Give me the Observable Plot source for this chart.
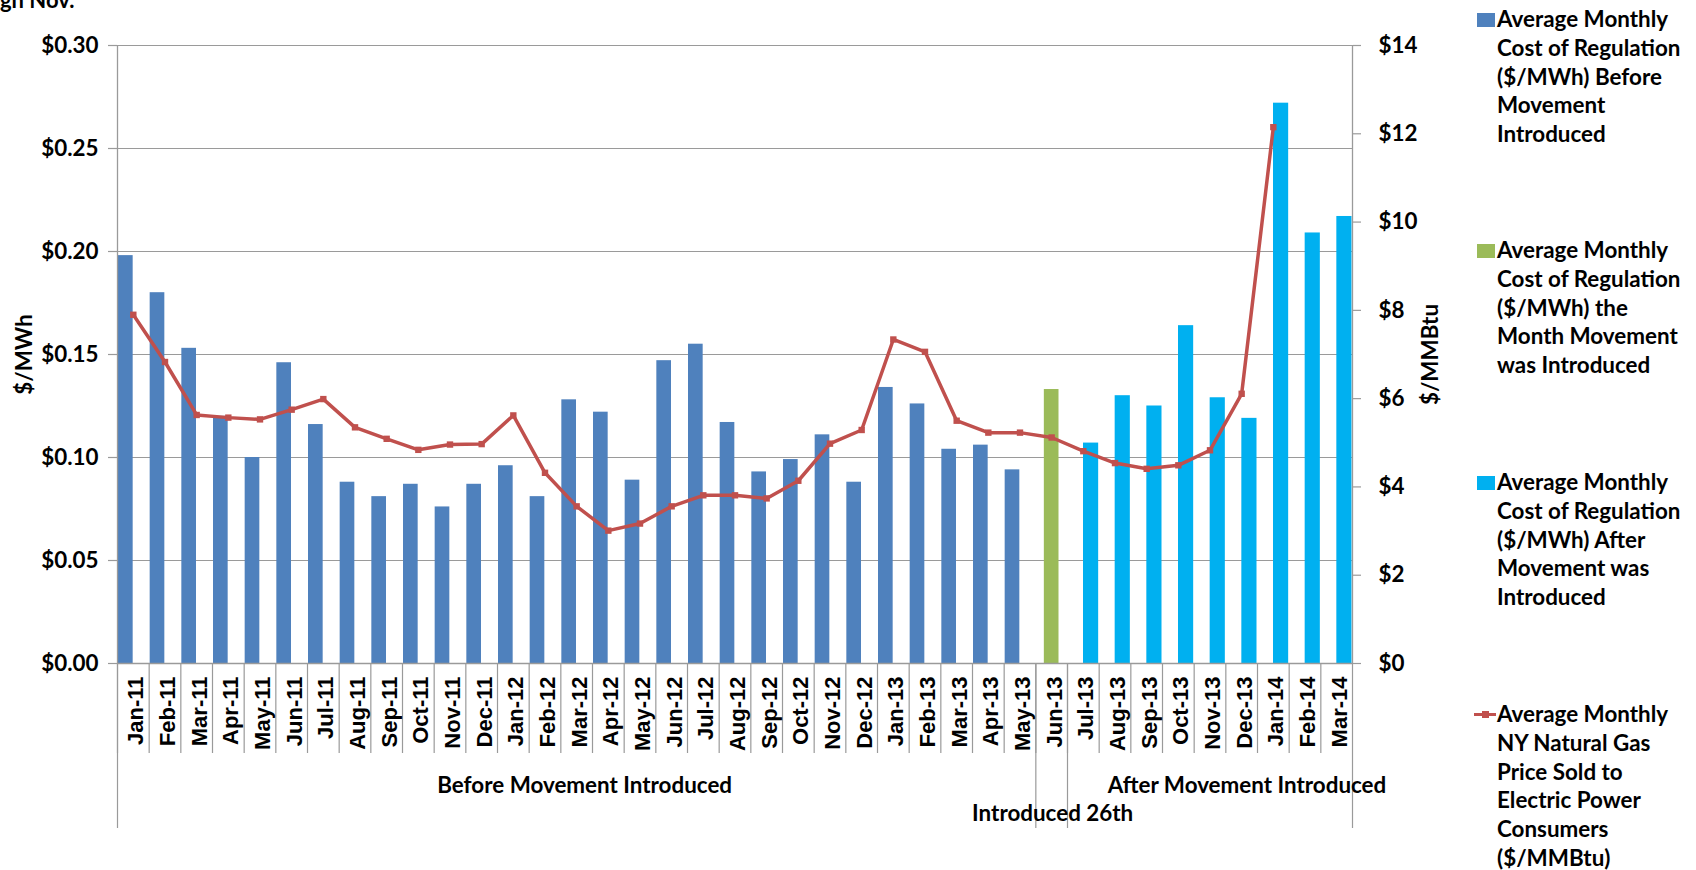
<!DOCTYPE html>
<html><head><meta charset="utf-8">
<script src="https://cdn.jsdelivr.net/npm/d3@7"></script>
<script src="https://cdn.jsdelivr.net/npm/@observablehq/plot@0.6"></script>
<style>
body{margin:0;background:#fff;overflow:hidden;}
#wrap{position:relative;width:1696px;height:870px;font-family:Lato,sans-serif;font-weight:700;color:#000;overflow:hidden;}
#wrap svg{position:absolute;left:0;top:0;}
.note{position:absolute;left:0;top:-11px;font-size:22px;line-height:22px;}
.legend{position:absolute;left:1474px;top:0;font-size:22.4px;line-height:28.8px;}
.legend .item{position:absolute;left:0;white-space:nowrap;}
.sw{position:absolute;left:3px;top:8px;width:18px;height:14px;}
.ln{position:absolute;left:0;top:13px;width:22px;height:3px;}
.mk{position:absolute;left:8px;top:11px;width:7px;height:7px;}
.txt{position:absolute;left:23px;top:0;}
</style></head><body><div id="wrap"><div class="note">gh Nov.</div></div>
<script>
const months = ["Jan-11","Feb-11","Mar-11","Apr-11","May-11","Jun-11","Jul-11","Aug-11","Sep-11","Oct-11","Nov-11","Dec-11",
"Jan-12","Feb-12","Mar-12","Apr-12","May-12","Jun-12","Jul-12","Aug-12","Sep-12","Oct-12","Nov-12","Dec-12",
"Jan-13","Feb-13","Mar-13","Apr-13","May-13","Jun-13","Jul-13","Aug-13","Sep-13","Oct-13","Nov-13","Dec-13",
"Jan-14","Feb-14","Mar-14"];
// Average monthly cost of regulation ($/MWh) before movement introduced: Jan-11 .. May-13
const costBefore = [0.198,0.180,0.153,0.120,0.100,0.146,0.116,0.088,0.081,0.087,0.076,0.087,
0.096,0.081,0.128,0.122,0.089,0.147,0.155,0.117,0.093,0.099,0.111,0.088,
0.134,0.126,0.104,0.106,0.094];
// the month movement was introduced: Jun-13
const costIntro = [0.133];
// after movement was introduced: Jul-13 .. Mar-14
const costAfter = [0.107,0.130,0.125,0.164,0.129,0.119,0.272,0.209,0.217];
// NY natural gas price sold to electric power consumers ($/MMBtu): Jan-11 .. Jan-14
const gasPrice = [7.90,6.83,5.63,5.57,5.53,5.75,5.99,5.35,5.09,4.84,4.96,4.97,
5.62,4.32,3.56,3.01,3.17,3.56,3.81,3.81,3.74,4.14,4.98,5.29,
7.34,7.06,5.50,5.23,5.23,5.12,4.81,4.54,4.41,4.49,4.83,6.11,
12.15];
const leftTicks = [0,0.05,0.10,0.15,0.20,0.25,0.30];
const rightTicks = [0,2,4,6,8,10,12,14];
const groupLabels = ["Before Movement Introduced","Introduced 26th","After Movement Introduced"];
const groupAt = ["Mar-12","Jun-13","Nov-13"];
const seriesNames = [
 ["Average Monthly","Cost of Regulation","($/MWh) Before","Movement","Introduced"],
 ["Average Monthly","Cost of Regulation","($/MWh) the","Month Movement","was Introduced"],
 ["Average Monthly","Cost of Regulation","($/MWh) After","Movement was","Introduced"],
 ["Average Monthly","NY Natural Gas","Price Sold to","Electric Power","Consumers","($/MMBtu)"]
];
const seriesColors = ["#4F81BD","#9BBB59","#00B0F0","#C0504D"];

const Y_MAX = 0.30, G_MAX = 14;
const toY = g => g * Y_MAX / G_MAX;
const nBefore = costBefore.length;
const beforeRows = costBefore.map((v,i)=>({month: months[i], value: v}));
const introRows = costIntro.map((v,i)=>({month: months[nBefore+i], value: v}));
const afterRows = costAfter.map((v,i)=>({month: months[nBefore+costIntro.length+i], value: v}));
const gasRows = gasPrice.map((v,i)=>({month: months[i], gas: v}));

const W = 1696, H = 870, mL = 117, mR = 344, mT = 45, mB = 207;
const bw = (W - mL - mR) / months.length;
const gray = "#9a9a9a";
const tf = {fontFamily: "Lato", fontWeight: 700, fontSize: 22.4};

const chart = Plot.plot({
  width: W, height: H,
  marginLeft: mL, marginRight: mR, marginTop: mT, marginBottom: mB,
  style: {fontFamily: "Lato", fontWeight: 700, fontSize: "22px", color: "#000", background: "transparent", overflow: "visible"},
  x: {type: "band", domain: months, padding: 0, round: false},
  y: {domain: [0, Y_MAX]},
  marks: [
    Plot.gridY(leftTicks.slice(1), {stroke: gray, strokeOpacity: 1, strokeWidth: 1.2}),
    Plot.barY(beforeRows, {x: "month", y: "value", fill: seriesColors[0], insetLeft: 1, insetRight: 16}),
    Plot.barY(introRows, {x: "month", y: "value", fill: seriesColors[1], insetLeft: 8.5, insetRight: 8.5}),
    Plot.barY(afterRows, {x: "month", y: "value", fill: seriesColors[2], insetLeft: 16, insetRight: 0.5}),
    Plot.ruleY([0], {stroke: gray, strokeWidth: 1.3}),
    Plot.ruleX([months[0]], {dx: -bw/2, stroke: gray, strokeWidth: 1.3}),
    Plot.ruleX([months[months.length-1]], {dx: bw/2, stroke: gray, strokeWidth: 1.3}),
    Plot.axisX({ticks: months, tickSize: 90, dx: -bw/2, tickFormat: () => "", stroke: gray, strokeWidth: 1.2}),
    Plot.axisX({ticks: [months[0], months[nBefore], months[nBefore+1]], tickSize: 165, dx: -bw/2, tickFormat: () => "", stroke: gray, strokeWidth: 1.2}),
    Plot.axisX({ticks: [months[months.length-1]], tickSize: 165, dx: bw/2, tickFormat: () => "", stroke: gray, strokeWidth: 1.2}),
    Plot.axisX({tickSize: 0, tickRotate: -90, tickPadding: 13, dx: 3, fontFamily: "Liberation Sans", fontWeight: 700, fontSize: 22, fill: "#000"}),
    Plot.axisY({ticks: leftTicks, tickFormat: d => "$" + d.toFixed(2), tickSize: 9, tickPadding: 10, label: null, stroke: gray, strokeWidth: 1.2, fill: "#000", ...tf}),
    Plot.axisY({anchor: "right", ticks: rightTicks.map(toY), tickFormat: d => "$" + Math.round(d / toY(1)), tickSize: 8, tickPadding: 18, label: null, stroke: gray, strokeWidth: 1.2, fill: "#000", ...tf}),
    Plot.line(gasRows, {x: "month", y: d => toY(d.gas), stroke: seriesColors[3], strokeWidth: 3.5}),
    Plot.dot(gasRows, {x: "month", y: d => toY(d.gas), symbol: "square", r: 3.6, fill: seriesColors[3]}),
    Plot.text(["$/MWh"], {frameAnchor: "left", textAnchor: "middle", dx: -93, rotate: -90, fill: "#000", ...tf}),
    Plot.text(["$/MMBtu"], {frameAnchor: "right", textAnchor: "middle", dx: 78, rotate: -90, fill: "#000", ...tf}),
    Plot.text([{label: groupLabels[0], at: groupAt[0]}], {x: "at", text: "label", frameAnchor: "bottom", dy: 129, dx: 8, fill: "#000", ...tf}),
    Plot.text([{label: groupLabels[1], at: groupAt[1]}], {x: "at", text: "label", frameAnchor: "bottom", dy: 157, dx: 1, fill: "#000", ...tf}),
    Plot.text([{label: groupLabels[2], at: groupAt[2]}], {x: "at", text: "label", frameAnchor: "bottom", dy: 129, dx: 37, fill: "#000", ...tf})
  ]
});
const wrap = document.getElementById("wrap");
wrap.appendChild(chart);

const legend = document.createElement("div");
legend.className = "legend";
const itemTops = [5, 236, 468, 700];
seriesNames.forEach((lines, i) => {
  const it = document.createElement("div");
  it.className = "item";
  it.style.top = itemTops[i] + "px";
  if (i < 3) {
    const sw = document.createElement("div"); sw.className = "sw"; sw.style.background = seriesColors[i]; it.appendChild(sw);
  } else {
    const ln = document.createElement("div"); ln.className = "ln"; ln.style.background = seriesColors[i]; it.appendChild(ln);
    const mk = document.createElement("div"); mk.className = "mk"; mk.style.background = seriesColors[i]; it.appendChild(mk);
  }
  const tx = document.createElement("div"); tx.className = "txt";
  tx.innerHTML = lines.join("<br>");
  it.appendChild(tx);
  legend.appendChild(it);
});
wrap.appendChild(legend);
</script></body></html>
